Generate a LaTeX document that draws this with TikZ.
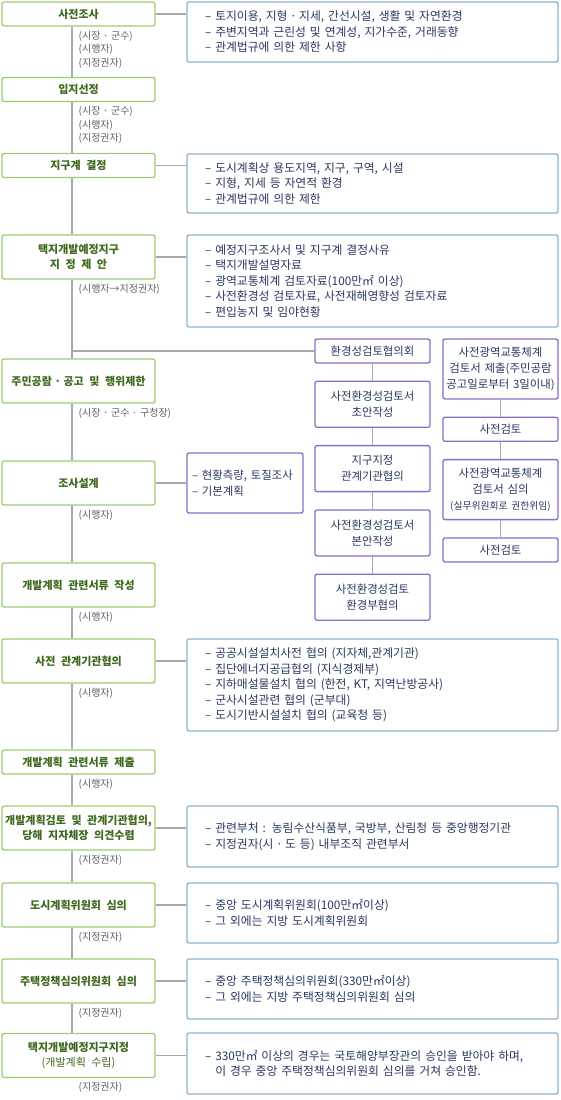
\documentclass[tikz,border=0pt]{standalone}
\usepackage{fontspec}
\setmainfont{Noto Sans CJK KR}[WordSpace=2.2]
\usetikzlibrary{positioning}

\definecolor{stageline}{RGB}{158,204,110}
\definecolor{stagetext}{RGB}{62,105,30}
\definecolor{noteline}{RGB}{140,178,208}
\definecolor{notetext}{RGB}{40,56,96}
\definecolor{reviewline}{RGB}{138,108,200}
\definecolor{linkgray}{RGB}{168,168,168}
\definecolor{whotext}{RGB}{95,95,95}

\newcommand{\sepdot}{\hspace{2.5pt}·\hspace{2.5pt}}

\begin{document}
\begin{tikzpicture}[x=1pt, y=-1pt,
	font=\fontsize{11.8}{15.5}\selectfont,
	link/.style    = {draw=linkgray, line width=1.6pt},
	basic/.style   = {draw, rectangle, rounded corners=2pt, line width=1.3pt, fill=white, inner sep=0pt},
	stage/.style   = {basic, draw=stageline, text=stagetext, align=center, minimum width=153pt, minimum height=44pt, font=\fontsize{11}{15}\selectfont\bfseries},
	low/.style     = {minimum height=24pt},
	note/.style    = {basic, draw=noteline, text=notetext, align=left, text width=335pt, inner xsep=18pt},
	review/.style  = {basic, draw=reviewline, text=notetext, align=center, text width=111pt, inner xsep=2pt, font=\fontsize{11.4}{16}\selectfont},
	who/.style     = {text=whotext, align=left, inner sep=0pt, font=\fontsize{10}{13.5}\selectfont}]

	\useasboundingbox (0,0) rectangle (560,1100);
	\coordinate (trunk) at (72,0);

	% main steps on the left
	\node[stage, low] (s1)  at (78.5,14)     {사전조사};
	\node[stage, low] (s2)  at (78.5,89.5)   {입지선정};
	\node[stage, low] (s3)  at (78.5,165.5)  {지구계 결정};
	\node[stage]      (s4)  at (78.5,257)    {택지개발예정지구\\지 정 제 안};
	\node[stage]      (s5)  at (78.5,381)    {주민공람\sepdot 공고 및 행위제한};
	\node[stage]      (s6)  at (78.5,483)    {조사설계};
	\node[stage]      (s7)  at (78.5,585)    {개발계획 관련서류 작성};
	\node[stage]      (s8)  at (78.5,661)    {사전 관계기관협의};
	\node[stage, low] (s9)  at (78.5,762)    {개발계획 관련서류 제출};
	\node[stage]      (s10) at (78.5,828)    {개발계획검토 및 관계기관협의,\\당해 지자체장 의견수렴};
	\node[stage]      (s11) at (78.5,905)    {도시계획위원회 심의};
	\node[stage]      (s12) at (78.5,981)    {주택정책심의위원회 심의};
	\node[stage]      (s13) at (78.5,1055.5) {택지개발예정지구지정\\{\mdseries(개발계획 수립)}};

	% who is in charge, under each step
	\begin{scope}[every node/.style={who}]
	\node[below right=4pt and 0pt of s1.south]  (w1)  {(시장\sepdot 군수)\\(시행자)\\(지정권자)};
	\node[below right=4pt and 0pt of s2.south]  (w2)  {(시장\sepdot 군수)\\(시행자)\\(지정권자)};
	\node[below right=4pt and 0pt of s4.south]  (w4)  {(시행자→지정권자)};
	\node[below right=4pt and 0pt of s5.south]  (w5)  {(시장\sepdot 군수\sepdot 구청장)};
	\node[below right=4pt and 0pt of s6.south]  (w6)  {(시행자)};
	\node[below right=4pt and 0pt of s7.south]  (w7)  {(시행자)};
	\node[below right=4pt and 0pt of s8.south]  (w8)  {(시행자)};
	\node[below right=4pt and 0pt of s9.south]  (w9)  {(시행자)};
	\node[below right=4pt and 0pt of s10.south] (w10) {(지정권자)};
	\node[below right=4pt and 0pt of s11.south] (w11) {(지정권자)};
	\node[below right=4pt and 0pt of s12.south] (w12) {(지정권자)};
	\node[below right=4pt and 0pt of s13.south] (w13) {(지정권자)};
	\end{scope}

	% details on the right
	\node[note, minimum height=60pt] (d1) at (372.5,32)
	  {– 토지이용, 지형\sepdot 지세, 간선시설, 생활 및 자연환경\\– 주변지역과 근린성 및 연계성, 지가수준, 거래동향\\– 관계법규에 의한 제한 사항};
	\node[note, minimum height=59pt] (d3) at (372.5,183.5)
	  {– 도시계획상 용도지역, 지구, 구역, 시설\\– 지형, 지세 등 자연적 환경\\– 관계법규에 의한 제한};
	\node[note, minimum height=92pt] (d4) at (372.5,281)
	  {– 예정지구조사서 및 지구계 결정사유\\– 택지개발설명자료\\– 광역교통체계 검토자료(100만㎡ 이상)\\– 사전환경성 검토자료, 사전재해영향성 검토자료\\– 편입농지 및 임야현황};
	\node[basic, draw=reviewline, text=notetext, align=left, text width=106pt, inner xsep=5pt, minimum height=60pt, font=\fontsize{11.4}{16}\selectfont] (d6) at (245,483)
	  {– 현황측량, 토질조사\\– 기본계획};
	\node[note, minimum height=92pt] (d8) at (372.5,685)
	  {– 공공시설설치사전 협의 (지자체,관계기관)\\– 집단에너지공급협의 (지식경제부)\\– 지하매설물설치 협의 (한전, KT, 지역난방공사)\\– 군사시설관련 협의 (군부대)\\– 도시기반시설설치 협의 (교육청 등)};
	\node[note, minimum height=61pt] (d10) at (372.5,836.5)
	  {– 관련부처 : 농림수산식품부, 국방부, 산림청 등 중앙행정기관\\– 지정권자(시\sepdot 도 등) 내부조직 관련부서};
	\node[note, minimum height=60pt] (d11) at (372.5,913)
	  {– 중앙 도시계획위원회(100만㎡이상)\\– 그 외에는 지방 도시계획위원회};
	\node[note, minimum height=60pt] (d12) at (372.5,989)
	  {– 중앙 주택정책심의위원회(330만㎡이상)\\– 그 외에는 지방 주택정책심의위원회 심의};
	\node[note, minimum height=61pt] (d13) at (372.5,1063.5)
	  {– 330만㎡ 이상의 경우는 국토해양부장관의 승인을 받아야 하며,\\\phantom{– }이 경우 중앙 주택정책심의위원회 심의를 거쳐 승인함.};

	% environmental review column
	\node[review, low] (env) at (372.5,351) {환경성검토협의회};
	\node[review, minimum height=46pt, below=17pt of env]     (draft)   {사전환경성검토서\\초안작성};
	\node[review, minimum height=46pt, below=17pt of draft]   (consult) {지구지정\\관계기관협의};
	\node[review, minimum height=46pt, below=17pt of consult] (final)   {사전환경성검토서\\본안작성};
	\node[review, minimum height=46pt, below=17pt of final]   (moe)     {사전환경성검토\\환경부협의};

	% traffic review column
	\node[review, minimum height=60pt] (traffic) at (500.5,369) {사전광역교통체계\\검토서 제출(주민공람\\공고일로부터 3일이내)};
	\node[review, low, below=17pt of traffic] (pre1) {사전검토};
	\node[review, minimum height=60pt, below=17pt of pre1] (board) {사전광역교통체계\\검토서 심의\\{\fontsize{9.8}{13}\selectfont(실무위원회로 권한위임)}};
	\node[review, low, below=17pt of board] (pre2) {사전검토};

	% trunk line between the main steps
	\foreach \a/\b in {1/2,2/3,3/4,4/5,5/6,6/7,7/8,8/9,9/10,10/11,11/12,12/13}
	  \draw[link] (trunk |- s\a.south) -- (trunk |- s\b.north);

	% steps to their details
	\foreach \value in {1,3,4,6,8,10,11,12,13}
	  \draw[link] (s\value.east) -- (s\value.east -| d\value.west);

	% branch to the review columns
	\draw[link] (trunk |- env.west) -- (env.west);
	\foreach \a/\b in {env/draft,draft/consult,consult/final,final/moe,traffic/pre1,pre1/board,board/pre2}
	  \draw[link] (\a.south) -- (\b.north);
\end{tikzpicture}
\end{document}
